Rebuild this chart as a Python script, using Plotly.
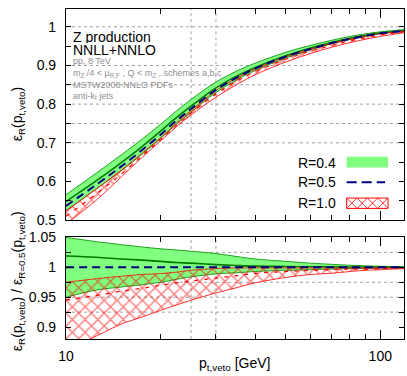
import plotly.graph_objects as go
from plotly.subplots import make_subplots

# p_t,veto values [GeV]
pt = [10, 12.5, 15, 17.5, 20, 22.5, 25, 30, 35, 40, 50, 60, 70, 80, 90, 100, 120]

# top panel: efficiencies
r04_lo = [0.525, 0.581, 0.628, 0.671, 0.711, 0.749, 0.780, 0.830, 0.863, 0.887, 0.919, 0.940, 0.956, 0.967, 0.975, 0.982, 0.989]
r04_hi = [0.566, 0.622, 0.669, 0.710, 0.748, 0.783, 0.812, 0.857, 0.886, 0.906, 0.934, 0.952, 0.965, 0.975, 0.982, 0.987, 0.993]
r04_c = [0.548, 0.602, 0.649, 0.691, 0.730, 0.766, 0.795, 0.842, 0.873, 0.895, 0.925, 0.945, 0.959, 0.970, 0.978, 0.984, 0.990]
r05_c = [0.537, 0.592, 0.639, 0.682, 0.721, 0.758, 0.788, 0.837, 0.869, 0.892, 0.923, 0.943, 0.958, 0.969, 0.977, 0.983, 0.990]
r10_lo = [0.490, 0.552, 0.612, 0.663, 0.705, 0.742, 0.772, 0.818, 0.851, 0.876, 0.909, 0.931, 0.947, 0.959, 0.968, 0.975, 0.985]
r10_hi = [0.524, 0.581, 0.629, 0.674, 0.713, 0.752, 0.784, 0.835, 0.868, 0.891, 0.922, 0.942, 0.957, 0.968, 0.976, 0.982, 0.989]
r10_c = [0.510, 0.568, 0.619, 0.667, 0.708, 0.746, 0.777, 0.826, 0.860, 0.884, 0.916, 0.937, 0.952, 0.964, 0.972, 0.979, 0.987]

# bottom panel: ratio to R=0.5
q04_lo = [0.950, 0.962, 0.967, 0.971, 0.975, 0.980, 0.984, 0.989, 0.991, 0.993, 0.995, 0.996, 0.997, 0.998, 0.998, 0.999, 0.999]
q04_hi = [1.050, 1.043, 1.038, 1.034, 1.031, 1.029, 1.027, 1.023, 1.018, 1.014, 1.010, 1.007, 1.005, 1.0035, 1.0025, 1.0018, 1.001]
q04_c = [1.019, 1.017, 1.014, 1.012, 1.010, 1.008, 1.007, 1.0045, 1.003, 1.002, 1.0015, 1.001, 1.0008, 1.0006, 1.0005, 1.0004, 1.0003]
q05_c = [1.0, 1.0, 1.0, 1.0, 1.0, 1.0, 1.0, 1.0, 1.0, 1.0, 1.0, 1.0, 1.0, 1.0, 1.0, 1.0, 1.0]
q10_lo = [0.860, 0.885, 0.905, 0.917, 0.928, 0.937, 0.945, 0.957, 0.966, 0.974, 0.983, 0.988, 0.990, 0.993, 0.995, 0.996, 0.998]
q10_hi = [0.975, 0.981, 0.985, 0.988, 0.9895, 0.992, 0.995, 0.998, 0.999, 0.999, 0.999, 0.999, 0.999, 0.999, 0.999, 0.999, 0.999]
q10_c = [0.945, 0.953, 0.960, 0.965, 0.970, 0.974, 0.977, 0.982, 0.986, 0.990, 0.993, 0.995, 0.996, 0.997, 0.997, 0.998, 0.999]

x_major = [10, 100]
x_minor = [20, 30, 40, 50, 60, 70, 80, 90]
top_ticks = [0.5, 0.6, 0.7, 0.8, 0.9, 1.0]
top_text = ["0.5", "0.6", "0.7", "0.8", "0.9", "1"]
top_minor = [0.55, 0.65, 0.75, 0.85, 0.95]
bot_ticks = [0.9, 0.95, 1.0, 1.05]
bot_text = ["0.9", "0.95", "1", "1.05"]
bot_minor = [0.925, 0.975, 1.025]
grid_x = [25, 30]
grid_top = [0.7, 0.75, 0.8, 0.85, 0.9, 1.0]
grid_bot = [0.925, 0.95, 0.975, 1.025]

GREEN_FILL = "#80ff80"
GREEN_EDGE = "#20a020"
GREEN_LINE = "#007a00"
NAVY = "#000080"
RED = "#ff0000"
FONT = "Liberation Sans, Arial, sans-serif"

fig = make_subplots(rows=2, cols=1, shared_xaxes=False, vertical_spacing=0.05,
                    row_heights=[0.64, 0.31])


def add_bands(row, g_lo, g_hi, g_c, n_c, r_lo, r_hi, r_c):
    common = dict(x=pt, mode="lines", showlegend=False, hoverinfo="skip")
    fig.add_trace(go.Scatter(y=g_lo, line=dict(color=GREEN_EDGE, width=1, shape="spline"),
                             **common), row=row, col=1)
    fig.add_trace(go.Scatter(y=g_hi, fill="tonexty", fillcolor=GREEN_FILL,
                             line=dict(color=GREEN_EDGE, width=1, shape="spline"),
                             **common), row=row, col=1)
    fig.add_trace(go.Scatter(y=g_c, line=dict(color=GREEN_LINE, width=1.6, shape="spline"),
                             **common), row=row, col=1)
    fig.add_trace(go.Scatter(y=r_lo, line=dict(color=RED, width=0.8, shape="spline"),
                             **common), row=row, col=1)
    fig.add_trace(go.Scatter(y=r_hi, fill="tonexty", fillcolor="rgba(0,0,0,0)",
                             fillpattern=dict(shape="x", fgcolor=RED, bgcolor="rgba(0,0,0,0)",
                                              size=9, solidity=0.3),
                             line=dict(color=RED, width=0.8, shape="spline"),
                             **common), row=row, col=1)
    fig.add_trace(go.Scatter(y=r_c, line=dict(color=RED, width=1.2, dash="4px,6px", shape="spline"),
                             **common), row=row, col=1)
    fig.add_trace(go.Scatter(y=n_c, line=dict(color=NAVY, width=2, dash="8px,5px", shape="spline"),
                             **common), row=row, col=1)


add_bands(1, r04_lo, r04_hi, r04_c, r05_c, r10_lo, r10_hi, r10_c)
add_bands(2, q04_lo, q04_hi, q04_c, q05_c, q10_lo, q10_hi, q10_c)

axis_style = dict(showline=True, linecolor="black", linewidth=1.2, mirror="ticks",
                  ticks="inside", tickcolor="black", showgrid=False, zeroline=False,
                  tickfont=dict(family=FONT, size=14, color="black"))

for row in (1, 2):
    fig.update_xaxes(type="log", range=[1, 2.0755], tickmode="array", tickvals=x_major,
                     ticklen=9, ticklabelstandoff=4,
                     minor=dict(tickvals=x_minor, ticks="inside", ticklen=5, tickcolor="black"),
                     showticklabels=(row == 2), row=row, col=1, **axis_style)
fig.update_yaxes(range=[0.5, 1.046], tickmode="array", tickvals=top_ticks, ticktext=top_text,
                 ticklen=5, ticklabelstandoff=6,
                 minor=dict(tickvals=top_minor, ticks="inside", ticklen=5, tickcolor="black"),
                 row=1, col=1, **axis_style)
fig.update_yaxes(range=[0.88, 1.051], tickmode="array", tickvals=bot_ticks, ticktext=bot_text,
                 ticklen=5, ticklabelstandoff=6,
                 minor=dict(tickvals=bot_minor, ticks="inside", ticklen=5, tickcolor="black"),
                 row=2, col=1, **axis_style)
fig.update_yaxes(domain=[0.3601, 1.0], row=1, col=1)
fig.update_yaxes(domain=[0.0, 0.3095], row=2, col=1)

grid_line = dict(color="#a0a0a0", width=1, dash="dot")
for row, grid_y in ((1, grid_top), (2, grid_bot)):
    for gx in grid_x:
        fig.add_vline(x=gx, line=grid_line, layer="below", row=row, col=1)
    for gy in grid_y:
        fig.add_hline(y=gy, line=grid_line, layer="below", row=row, col=1)


def px_x(p):
    return (p - 66) / 339


def px_y(p):
    return (339 - p) / 336


def note(text, x, y, size, color="black", xanchor="left", angle=0, height=None):
    fig.add_annotation(text=text, x=px_x(x), y=px_y(y), xref="paper", yref="paper",
                       xanchor=xanchor, yanchor="middle", showarrow=False, textangle=angle,
                       height=height, borderpad=0,
                       font=dict(family=FONT, size=size, color=color))


note("Z production", 72, 31, 14, height=13)
note("NNLL+NNLO", 72, 44.5, 14, height=13)
GRAY = "#8f8f8f"
note("pp, 8 TeV", 72, 55.5, 9, GRAY, height=10)
note("m<sub>Z</sub> /4 < μ<sub>R,F</sub> , Q < m<sub>Z</sub> , schemes a,b,c", 72, 69, 9, GRAY,
     height=11)
note("MSTW2008 NNLO PDFs", 72, 80, 9, GRAY, height=10)
note("anti-k<sub>t</sub> jets", 72, 91.5, 9, GRAY, height=10)

# axis titles
note("ε<sub>R</sub>(p<sub>t,veto</sub>)", 18, 110, 14, xanchor="center", angle=-90)
note("ε<sub>R</sub>(p<sub>t,veto</sub>) / ε<sub>R=0.5</sub>(p<sub>t,veto</sub>)", 18, 280, 14,
     xanchor="center", angle=-90)
note("p<sub>t,veto</sub> [GeV]", 235, 364, 14, xanchor="center")

# key, drawn by hand so the labels sit left of the samples
note("R=0.4", 338, 159.5, 14, xanchor="right")
note("R=0.5", 338, 179.5, 14, xanchor="right")
note("R=1.0", 338, 200.5, 14, xanchor="right")
kx0, kx1 = 347.5, 389
fig.add_shape(type="rect", xref="paper", yref="paper", x0=px_x(kx0), x1=px_x(kx1),
              y0=px_y(164.5), y1=px_y(153.5), fillcolor=GREEN_FILL, line=dict(width=0))
fig.add_shape(type="line", xref="paper", yref="paper", x0=px_x(kx0), x1=px_x(386),
              y0=px_y(179.5), y1=px_y(179.5), line=dict(color=NAVY, width=2, dash="10px,5px"))
hy0, hy1 = 195.5, 206
cells = 4
w = (kx1 - kx0) / cells
path = ""
for i in range(cells):
    a, b = kx0 + i * w, kx0 + (i + 1) * w
    path += f"M{px_x(a)},{px_y(hy0)} L{px_x(b)},{px_y(hy1)} "
    path += f"M{px_x(a)},{px_y(hy1)} L{px_x(b)},{px_y(hy0)} "
fig.add_shape(type="path", xref="paper", yref="paper", path=path,
              line=dict(color=RED, width=0.8))
fig.add_shape(type="rect", xref="paper", yref="paper", x0=px_x(kx0), x1=px_x(kx1),
              y0=px_y(hy1), y1=px_y(hy0), line=dict(color=RED, width=1))

fig.update_layout(width=407, height=376, margin=dict(l=66, r=2, t=3, b=37),
                  plot_bgcolor="white", paper_bgcolor="white", showlegend=False,
                  font=dict(family=FONT, size=14, color="black"))
# the page's default body margin would push the figure out of the window
fig.write_html("out.html", config={"displayModeBar": False},
               post_script="document.body.style.margin='0';")
